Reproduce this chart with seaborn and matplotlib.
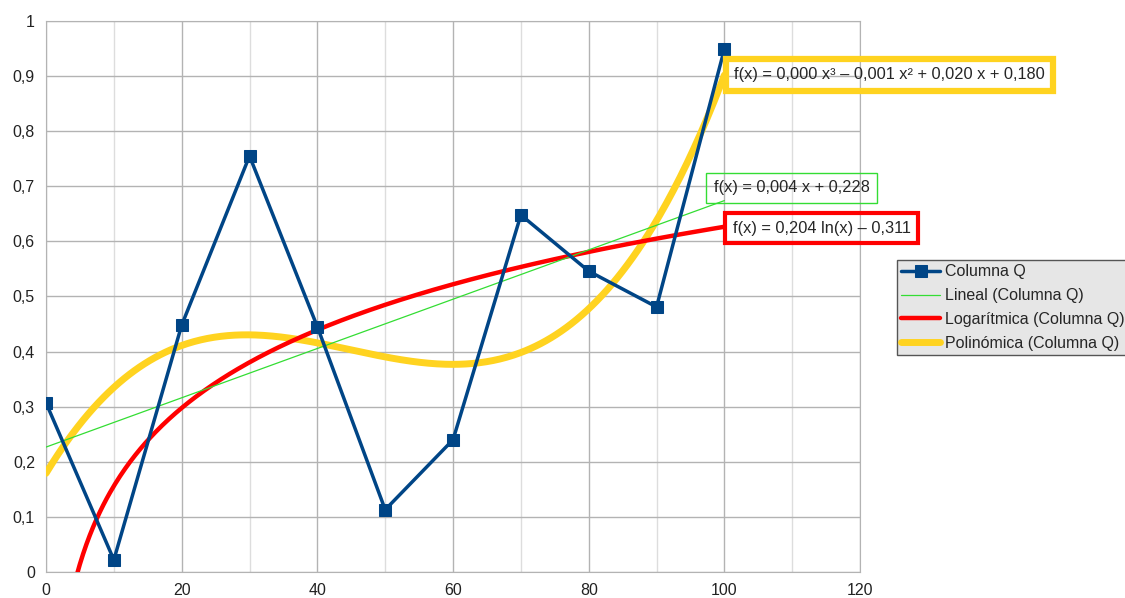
import numpy as np
import pandas as pd
import matplotlib
matplotlib.use("Agg")
import matplotlib.pyplot as plt
import seaborn as sns
from matplotlib.ticker import FuncFormatter, MultipleLocator

# data
x_vals = [0, 10, 20, 30, 40, 50, 60, 70, 80, 90, 100]
q_vals = [0.307, 0.022, 0.448, 0.755, 0.445, 0.113, 0.240, 0.648, 0.546, 0.481, 0.949]

series_name = "Columna Q"
lin_name = "Lineal (Columna Q)"
log_name = "Logarítmica (Columna Q)"
poly_name = "Polinómica (Columna Q)"

lin_label = "f(x) = 0,004 x + 0,228"
log_label = "f(x) = 0,204 ln(x) \u2013 0,311"
poly_label = "f(x) = 0,000 x\u00b3 \u2013 0,001 x\u00b2 + 0,020 x + 0,180"

sns.set_style("white")
plt.rcParams['font.family'] = ['Liberation Sans', 'DejaVu Sans']

df = pd.DataFrame({"x": x_vals, "y": q_vals})

# trend lines fitted to the data (like the spreadsheet does)
xs = np.linspace(0, 100, 400)
lin_c = np.polyfit(df.x, df.y, 1)
poly_c = np.polyfit(df.x, df.y, 3)
pos = df[df.x > 0]
log_c = np.polyfit(np.log(pos.x), pos.y, 1)
xs_log = np.linspace(1, 100, 400)

fig = plt.figure(figsize=(11.25, 5.98), dpi=100)
ax = fig.add_axes([0.0409, 0.0435, 0.7236, 0.9214])

sns.lineplot(x=xs, y=np.polyval(poly_c, xs), color="#ffd320", linewidth=5,
             label=poly_name, ax=ax, zorder=3)
sns.lineplot(x=xs_log, y=np.polyval(log_c, np.log(xs_log)), color="#ff0000",
             linewidth=3.2, label=log_name, ax=ax, zorder=4)
sns.lineplot(x=xs, y=np.polyval(lin_c, xs), color="#33dd33", linewidth=0.9,
             label=lin_name, ax=ax, zorder=5)
sns.lineplot(data=df, x="x", y="y", color="#004586", linewidth=2.5, marker="s",
             markersize=8.5, markeredgecolor="#004586", label=series_name, ax=ax,
             zorder=6)

ax.set_xlim(0, 120)
ax.set_ylim(0, 1)
ax.xaxis.set_major_locator(MultipleLocator(20))
ax.xaxis.set_minor_locator(MultipleLocator(10))
ax.yaxis.set_major_locator(MultipleLocator(0.1))
fmt = FuncFormatter(lambda v, p: f"{round(v, 2):g}".replace(".", ","))
ax.xaxis.set_major_formatter(fmt)
ax.yaxis.set_major_formatter(fmt)
ax.grid(True, which="major", color="#b3b3b3", linewidth=1)
ax.grid(True, which="minor", axis="x", color="#dddddd", linewidth=1)
ax.set_axisbelow(True)
for s in ax.spines.values():
    s.set_color("#b3b3b3")
ax.tick_params(axis="both", which="major", length=6, color="#b3b3b3",
               labelsize=11.5, labelcolor="#222222", pad=2)
ax.tick_params(axis="both", which="minor", length=0)
ax.set_xlabel("")
ax.set_ylabel("")

# equation labels (transparent boxes, as in the reference)
ax.text(101.4, 0.902, poly_label, fontsize=11.8, va="center", ha="left", zorder=8,
        bbox=dict(boxstyle="square,pad=0.5", fc="none", ec="#ffd320", lw=4.5))
ax.text(98.4, 0.697, lin_label, fontsize=11.8, va="center", ha="left", zorder=8,
        bbox=dict(boxstyle="square,pad=0.45", fc="none", ec="#33dd33", lw=1))
ax.text(101.2, 0.624, log_label, fontsize=11.8, va="center", ha="left", zorder=8,
        bbox=dict(boxstyle="square,pad=0.45", fc="none", ec="#ff0000", lw=3))

handles, labels = ax.get_legend_handles_labels()
order = [labels.index(n) for n in [series_name, lin_name, log_name, poly_name]]
leg = fig.legend([handles[i] for i in order], [labels[i] for i in order],
                 loc="upper left", bbox_to_anchor=(0.797, 0.566), fontsize=11.5,
                 frameon=True, fancybox=False, framealpha=1, handlelength=2.4,
                 borderpad=0.3, labelspacing=0.55, handletextpad=0.35,
                 borderaxespad=0)
leg.get_frame().set_facecolor("#e6e6e6")
leg.get_frame().set_edgecolor("#555555")
if ax.legend_:
    ax.legend_.remove()

fig.savefig("out.png", dpi=100)
